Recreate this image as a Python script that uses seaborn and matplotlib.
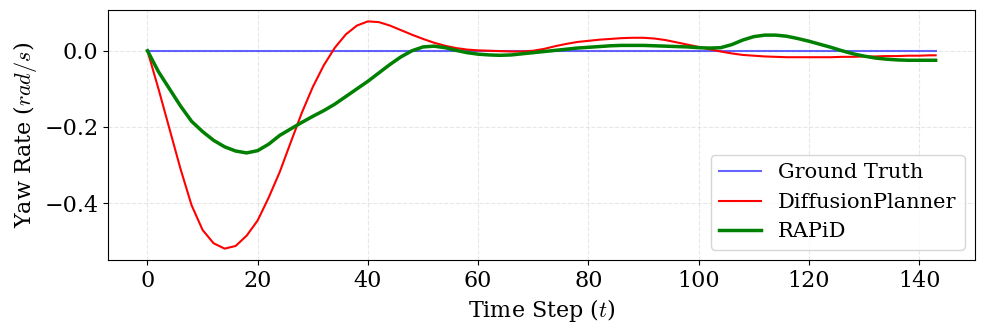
import numpy as np
import pandas as pd
import matplotlib
matplotlib.use("Agg")
import matplotlib.pyplot as plt
import seaborn as sns

#Time steps (every 2 steps, plus the last one)
steps = list(range(0, 144, 2)) + [143]

#Yaw rate values
ground_truth = [0.0] * len(steps)

diffusion_planner = [
    0.000, -0.100, -0.205, -0.310, -0.405, -0.470, -0.505, -0.519, -0.512, -0.485,
    -0.445, -0.385, -0.318, -0.240, -0.163, -0.095, -0.038, 0.008, 0.043, 0.066,
    0.077, 0.075, 0.066, 0.054, 0.042, 0.031, 0.021, 0.013, 0.007, 0.003,
    0.001, 0.000, -0.001, -0.002, -0.002, 0.000, 0.005, 0.012, 0.018, 0.023,
    0.026, 0.029, 0.031, 0.033, 0.034, 0.034, 0.032, 0.028, 0.022, 0.016,
    0.010, 0.004, -0.002, -0.007, -0.011, -0.013, -0.015, -0.016, -0.017, -0.017,
    -0.017, -0.017, -0.017, -0.016, -0.016, -0.015, -0.015, -0.014, -0.014, -0.013,
    -0.013, -0.012, -0.012,
]

rapid = [
    0.000, -0.055, -0.100, -0.145, -0.185, -0.212, -0.235, -0.252, -0.263, -0.268,
    -0.262, -0.245, -0.222, -0.205, -0.188, -0.172, -0.157, -0.140, -0.120, -0.100,
    -0.080, -0.058, -0.036, -0.016, 0.000, 0.010, 0.012, 0.008, 0.001, -0.005,
    -0.009, -0.011, -0.012, -0.011, -0.008, -0.005, -0.002, 0.001, 0.004, 0.007,
    0.009, 0.011, 0.013, 0.014, 0.014, 0.014, 0.013, 0.012, 0.011, 0.010,
    0.008, 0.007, 0.008, 0.016, 0.028, 0.037, 0.041, 0.041, 0.038, 0.032,
    0.025, 0.017, 0.009, 0.000, -0.008, -0.014, -0.019, -0.022, -0.024, -0.025,
    -0.025, -0.025, -0.025,
]

df = pd.DataFrame({
    'Step': steps,
    'Ground Truth': ground_truth,
    'DiffusionPlanner': diffusion_planner,
    'RAPiD': rapid,
})

plt.rcParams['font.family'] = ['DejaVu Serif']
plt.rcParams['mathtext.fontset'] = 'cm'

fig = plt.figure(figsize=(9.84, 3.34), dpi=100)
ax = fig.add_axes([0.1098, 0.2216, 0.8811, 0.7484])

sns.lineplot(x='Step', y='Ground Truth', data=df, ax=ax, color='blue', alpha=0.6, linewidth=1.5, label='Ground Truth')
sns.lineplot(x='Step', y='DiffusionPlanner', data=df, ax=ax, color='red', linewidth=1.5, label='DiffusionPlanner')
sns.lineplot(x='Step', y='RAPiD', data=df, ax=ax, color='green', linewidth=2.5, label='RAPiD')

ax.set_xlabel('Time Step ($t$)', fontsize=16)
ax.set_ylabel('Yaw Rate ($rad/s$)', fontsize=16)
ax.tick_params(labelsize=16)
ax.grid(True, linestyle='--', alpha=0.3)
ax.legend(loc='lower right', fontsize=15)

fig.savefig('out.png', dpi=100)
